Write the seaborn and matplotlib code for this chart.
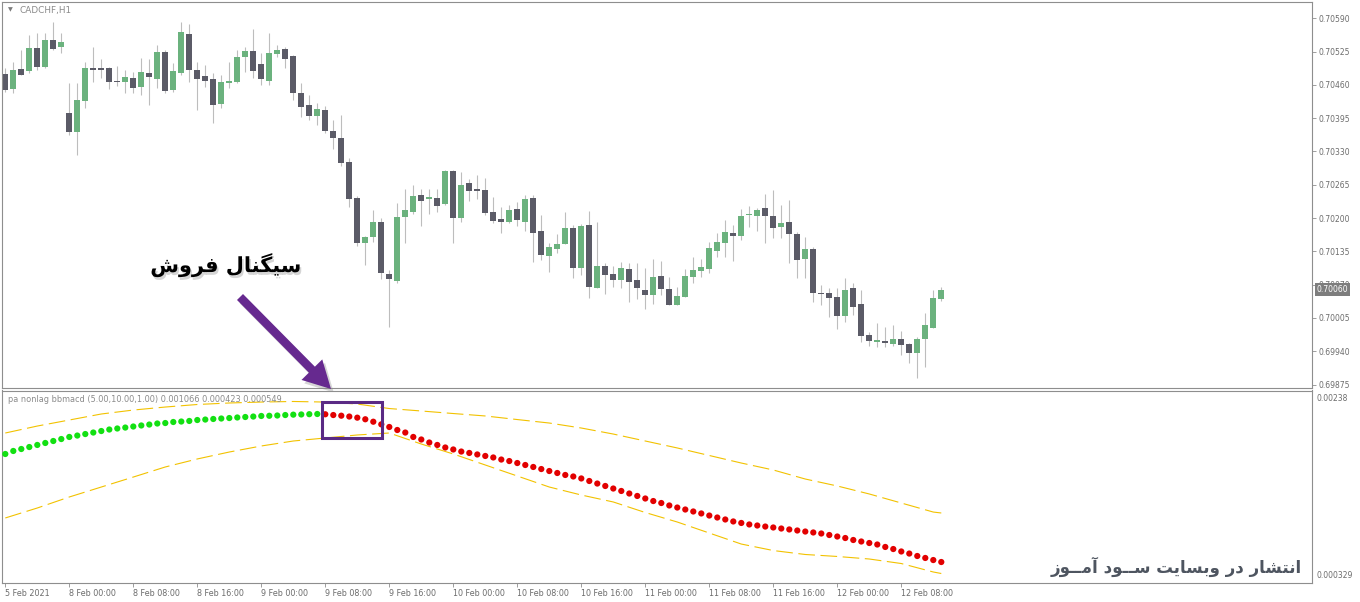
import numpy as np
import pandas as pd
import matplotlib
matplotlib.use("Agg")
import matplotlib.pyplot as plt
import matplotlib.patheffects as pe
from matplotlib.patches import Rectangle
import seaborn as sns

# ---------------- data ----------------
symbol = "CADCHF,H1"
indicator_title = "pa nonlag bbmacd (5.00,10.00,1.00) 0.001066 0.000423 0.000549"
signal_text = "سیگنال فروش"
credit_text = "انتشار در وبسایت ســود آمــوز"

opens = [0.70481,0.70452,0.70491,0.70487,0.70532,0.70495,0.70548,0.70534,0.70405,0.70368,
         0.70429,0.70493,0.70493,0.70493,0.70468,0.70466,0.70473,0.70456,0.70483,0.70471,
         0.70524,0.70450,0.70483,0.70559,0.70489,0.70477,0.70471,0.70423,0.70464,0.70466,
         0.70514,0.70526,0.70501,0.70468,0.70520,0.70530,0.70516,0.70444,0.70421,0.70399,
         0.70411,0.70370,0.70356,0.70310,0.70239,0.70151,0.70163,0.70192,0.70091,0.70077,
         0.70202,0.70212,0.70245,0.70237,0.70239,0.70227,0.70292,0.70200,0.70268,0.70257,
         0.70255,0.70212,0.70198,0.70192,0.70218,0.70192,0.70239,0.70175,0.70126,0.70140,
         0.70149,0.70181,0.70103,0.70187,0.70063,0.70107,0.70091,0.70079,0.70101,0.70079,
         0.70060,0.70050,0.70087,0.70062,0.70030,0.70046,0.70085,0.70097,0.70101,0.70136,
         0.70151,0.70171,0.70165,0.70206,0.70204,0.70220,0.70204,0.70183,0.70192,0.70169,
         0.70120,0.70140,0.70054,0.70054,0.70046,0.70009,0.70063,0.70032,0.69972,0.69958,
         0.69960,0.69954,0.69964,0.69954,0.69937,0.69964,0.69985,0.70042]
highs = [0.70493,0.70505,0.70528,0.70557,0.70561,0.70561,0.70583,0.70561,0.70464,0.70464,
         0.70505,0.70534,0.70510,0.70495,0.70497,0.70489,0.70485,0.70512,0.70510,0.70538,
         0.70528,0.70503,0.70583,0.70579,0.70505,0.70499,0.70483,0.70479,0.70505,0.70528,
         0.70534,0.70569,0.70522,0.70561,0.70538,0.70534,0.70518,0.70464,0.70440,0.70425,
         0.70419,0.70391,0.70401,0.70317,0.70243,0.70165,0.70216,0.70200,0.70099,0.70229,
         0.70257,0.70265,0.70257,0.70257,0.70257,0.70294,0.70294,0.70290,0.70276,0.70284,
         0.70278,0.70241,0.70222,0.70226,0.70231,0.70245,0.70245,0.70206,0.70151,0.70169,
         0.70212,0.70187,0.70188,0.70214,0.70192,0.70112,0.70107,0.70114,0.70112,0.70112,
         0.70103,0.70120,0.70116,0.70085,0.70065,0.70101,0.70124,0.70120,0.70153,0.70171,
         0.70196,0.70187,0.70218,0.70224,0.70220,0.70247,0.70255,0.70226,0.70235,0.70173,
         0.70163,0.70144,0.70069,0.70063,0.70063,0.70083,0.70073,0.70060,0.69978,0.69995,
         0.69987,0.69991,0.69980,0.69956,0.69968,0.70015,0.70060,0.70065]
lows = [0.70446,0.70444,0.70479,0.70483,0.70489,0.70493,0.70528,0.70522,0.70362,0.70323,
        0.70415,0.70466,0.70473,0.70452,0.70458,0.70444,0.70444,0.70440,0.70421,0.70454,
        0.70444,0.70446,0.70479,0.70466,0.70411,0.70456,0.70386,0.70415,0.70454,0.70464,
        0.70485,0.70473,0.70460,0.70460,0.70514,0.70493,0.70430,0.70397,0.70391,0.70382,
        0.70366,0.70335,0.70302,0.70222,0.70146,0.70108,0.70153,0.70081,0.69987,0.70073,
        0.70151,0.70208,0.70185,0.70208,0.70212,0.70226,0.70151,0.70192,0.70233,0.70237,
        0.70206,0.70190,0.70171,0.70190,0.70185,0.70175,0.70114,0.70118,0.70095,0.70132,
        0.70149,0.70083,0.70089,0.70044,0.70063,0.70052,0.70065,0.70063,0.70036,0.70042,
        0.70022,0.70032,0.70050,0.70030,0.70030,0.70046,0.70073,0.70085,0.70093,0.70124,
        0.70124,0.70116,0.70157,0.70183,0.70175,0.70151,0.70161,0.70161,0.70112,0.70083,
        0.70083,0.70036,0.70030,0.70007,0.69983,0.69997,0.70011,0.69958,0.69950,0.69948,
        0.69948,0.69950,0.69933,0.69917,0.69888,0.69909,0.69985,0.70038]
closes = [0.70450,0.70489,0.70479,0.70532,0.70495,0.70548,0.70530,0.70544,0.70368,0.70430,
          0.70493,0.70489,0.70489,0.70466,0.70466,0.70475,0.70454,0.70485,0.70475,0.70524,
          0.70448,0.70487,0.70563,0.70489,0.70471,0.70468,0.70421,0.70466,0.70468,0.70514,
          0.70526,0.70487,0.70471,0.70522,0.70528,0.70510,0.70444,0.70417,0.70399,0.70413,
          0.70370,0.70356,0.70308,0.70237,0.70151,0.70163,0.70192,0.70093,0.70081,0.70202,
          0.70216,0.70243,0.70233,0.70241,0.70224,0.70292,0.70200,0.70265,0.70253,0.70253,
          0.70210,0.70194,0.70192,0.70216,0.70196,0.70237,0.70171,0.70128,0.70144,0.70149,
          0.70181,0.70103,0.70185,0.70065,0.70107,0.70089,0.70079,0.70103,0.70075,0.70063,
          0.70050,0.70085,0.70062,0.70030,0.70048,0.70087,0.70099,0.70105,0.70142,0.70153,
          0.70173,0.70165,0.70204,0.70208,0.70216,0.70204,0.70181,0.70190,0.70169,0.70118,
          0.70140,0.70054,0.70052,0.70044,0.70009,0.70060,0.70026,0.69970,0.69960,0.69962,
          0.69956,0.69964,0.69952,0.69937,0.69964,0.69991,0.70044,0.70060]

macd = [0.001700,0.001732,0.001753,0.001774,0.001796,0.001817,0.001838,0.001859,0.001881,0.001896,
        0.001912,0.001928,0.001944,0.001960,0.001971,0.001981,0.001992,0.002003,0.002013,0.002024,
        0.002029,0.002040,0.002045,0.002051,0.002061,0.002066,0.002072,0.002077,0.002082,0.002088,
        0.002093,0.002098,0.002104,0.002106,0.002109,0.002114,0.002118,0.002120,0.002123,0.002125,
        0.002122,0.002114,0.002107,0.002098,0.002086,0.002069,0.002043,0.002015,0.001987,0.001955,
        0.001928,0.001881,0.001854,0.001822,0.001796,0.001769,0.001748,0.001726,0.001711,0.001695,
        0.001679,0.001663,0.001641,0.001625,0.001604,0.001583,0.001562,0.001540,0.001519,0.001498,
        0.001477,0.001461,0.001440,0.001413,0.001386,0.001360,0.001333,0.001307,0.001280,0.001254,
        0.001227,0.001200,0.001179,0.001153,0.001131,0.001110,0.001089,0.001068,0.001046,0.001025,
        0.001004,0.000983,0.000967,0.000951,0.000940,0.000929,0.000919,0.000908,0.000898,0.000887,
        0.000876,0.000866,0.000855,0.000839,0.000823,0.000807,0.000786,0.000770,0.000754,0.000738,
        0.000712,0.000690,0.000664,0.000642,0.000616,0.000595,0.000573,0.000552]

band_idx = [0,4,8,12,16,20,24,28,32,36,40,44,48,52,56,60,64,68,72,76,80,84,88,92,96,100,104,108,112,116,117]
band_upper = [0.001923,0.001997,0.002061,0.002125,0.002167,0.002199,0.002226,0.002242,0.002252,0.002258,
              0.002252,0.002231,0.002183,0.002157,0.002130,0.002104,0.002066,0.002029,0.001976,0.001912,
              0.001838,0.001764,0.001684,0.001604,0.001530,0.001434,0.001360,0.001275,0.001179,0.001083,0.001073]
band_lower = [0.001020,0.001126,0.001243,0.001349,0.001455,0.001562,0.001647,0.001721,0.001785,0.001838,
              0.001870,0.001902,0.001923,0.001806,0.001700,0.001583,0.001466,0.001349,0.001264,0.001190,
              0.001078,0.000977,0.000860,0.000743,0.000674,0.000632,0.000611,0.000584,0.000536,0.000446,0.000430]

price_ticks = [0.69875,0.69940,0.70005,0.70070,0.70135,0.70200,0.70265,0.70330,0.70395,0.70460,0.70525,0.70590]
last_price = 0.70060
ind_max_label = "0.00238"
ind_min_label = "0.000329"
ind_min, ind_max = 0.000329, 0.0023747

time_tick_pos = [0,8,16,24,32,40,48,56,64,72,80,88,96,104,112]
time_tick_labels = ["5 Feb 2021","8 Feb 00:00","8 Feb 08:00","8 Feb 16:00","9 Feb 00:00",
                    "9 Feb 08:00","9 Feb 16:00","10 Feb 00:00","10 Feb 08:00","10 Feb 16:00",
                    "11 Feb 00:00","11 Feb 08:00","11 Feb 16:00","12 Feb 00:00","12 Feb 08:00"]

# ---------------- simple Persian shaping ----------------
FORMS = {
    'ا': ('\uFE8D', '\uFE8E', None, None),
    'آ': ('\uFE81', '\uFE82', None, None),
    'ب': ('\uFE8F', '\uFE90', '\uFE91', '\uFE92'),
    'ت': ('\uFE95', '\uFE96', '\uFE97', '\uFE98'),
    'د': ('\uFEA9', '\uFEAA', None, None),
    'ر': ('\uFEAD', '\uFEAE', None, None),
    'ز': ('\uFEAF', '\uFEB0', None, None),
    'س': ('\uFEB1', '\uFEB2', '\uFEB3', '\uFEB4'),
    'ش': ('\uFEB5', '\uFEB6', '\uFEB7', '\uFEB8'),
    'ف': ('\uFED1', '\uFED2', '\uFED3', '\uFED4'),
    'ل': ('\uFEDD', '\uFEDE', '\uFEDF', '\uFEE0'),
    'م': ('\uFEE1', '\uFEE2', '\uFEE3', '\uFEE4'),
    'ن': ('\uFEE5', '\uFEE6', '\uFEE7', '\uFEE8'),
    'و': ('\uFEED', '\uFEEE', None, None),
    'ی': ('\uFBFC', '\uFBFD', '\uFBFE', '\uFBFF'),
    'گ': ('\uFB92', '\uFB93', '\uFB94', '\uFB95'),
    'ـ': ('\u0640', '\u0640', '\u0640', '\u0640'),
}


def shape_rtl(text):
    out = []
    n = len(text)
    for i, ch in enumerate(text):
        if ch not in FORMS:
            out.append(ch)
            continue
        prev = text[i - 1] if i > 0 else None
        nxt = text[i + 1] if i + 1 < n else None
        jp = prev in FORMS and FORMS[prev][2] is not None
        jn = FORMS[ch][2] is not None and nxt in FORMS
        iso, fin, ini, med = FORMS[ch]
        if jp and jn:
            g = med
        elif jp:
            g = fin
        elif jn:
            g = ini
        else:
            g = iso
        out.append(g)
    return ''.join(reversed(out))


# ---------------- style ----------------
sns.set_theme(style="white")
plt.rcParams['font.family'] = ['DejaVu Sans']

GREEN_BODY = "#6BB27E"
DARK_BODY = "#5B5B67"
WICK = "#BDBDBD"
FRAME = "#8E8E8E"
LABEL = "#6C6C6C"
DOT_UP = "#12E012"
DOT_DN = "#E20000"
BAND = "#F2C200"
PURPLE = "#66298F"
BOX = "#5A2A84"

W, H = 1360, 602
fig = plt.figure(figsize=(W / 100, H / 100), dpi=100, facecolor="white")


def rect(l, t, r, b):
    return [l / W, 1 - b / H, (r - l) / W, (b - t) / H]


ax1 = fig.add_axes(rect(2, 2, 1312, 387.5))
ax2 = fig.add_axes(rect(2, 390.5, 1312, 583))

xlim = (-0.4125, 163.34)

# ---------------- candles ----------------
o = np.array(opens); h = np.array(highs); l = np.array(lows); c = np.array(closes)
idx = np.arange(len(o))
up = c >= o
ax1.vlines(idx, l, h, color=WICK, lw=0.8, zorder=1)
bottom = np.minimum(o, c)
height = np.maximum(np.abs(c - o), 0.000016)
ax1.bar(idx[up], height[up], bottom=bottom[up], width=0.75, color=GREEN_BODY, lw=0, zorder=2)
ax1.bar(idx[~up], height[~up], bottom=bottom[~up], width=0.75, color=DARK_BODY, lw=0, zorder=2)

ax1.set_xlim(*xlim)
ax1.set_ylim(0.698693, 0.706218)
ax1.yaxis.tick_right()
ax1.set_yticks(price_ticks)
ax1.set_yticklabels([f"{v:.5f}" for v in price_ticks])
ax1.tick_params(axis='y', right=True, left=False, length=3, width=0.6, color=FRAME,
                labelsize=5.5, labelcolor=LABEL, pad=1.5)
ax1.tick_params(axis='x', bottom=False, labelbottom=False)
for s in ax1.spines.values():
    s.set_color(FRAME); s.set_linewidth(0.8)

ax1.text((8 - 2) / 1310, 1 - (10 - 2) / 385.5, "▼", transform=ax1.transAxes, fontsize=4.5,
         color="#7a7a7a", va='center', ha='left')
ax1.text((20 - 2) / 1310, 1 - (10 - 2) / 385.5, symbol, transform=ax1.transAxes, fontsize=6.4,
         color="#8a8a8a", va='center', ha='left')

ax1.annotate(f"{last_price:.5f}", xy=(1, last_price), xycoords=('axes fraction', 'data'),
             xytext=(3.2, 0), textcoords='offset points', va='center', ha='left',
             fontsize=5.5, color='white', zorder=10, annotation_clip=False,
             bbox=dict(boxstyle='square,pad=0.25', fc='#7d7d7d', ec='none'))

# ---------------- indicator ----------------
df = pd.DataFrame({"bar": idx, "value": macd})
slope = np.diff(np.array(macd), prepend=macd[0] - 1e-9)
df["trend"] = np.where(slope >= 0, "up", "down")
sns.scatterplot(data=df, x="bar", y="value", hue="trend", palette={"up": DOT_UP, "down": DOT_DN},
                s=20, linewidth=0, legend=False, ax=ax2, zorder=4)
sns.lineplot(x=band_idx, y=band_upper, color=BAND, lw=0.8, ax=ax2, zorder=3,
             linestyle=(0, (15, 5)))
sns.lineplot(x=band_idx, y=band_lower, color=BAND, lw=0.8, ax=ax2, zorder=3,
             linestyle=(0, (15, 5)))

ax2.set_xlim(*xlim)
ax2.set_ylim(ind_min, ind_max)
ax2.set_yticks([])
ax2.set_ylabel("")
ax2.set_xlabel("")
ax2.set_xticks(time_tick_pos)
ax2.set_xticklabels(time_tick_labels)
plt.setp(ax2.get_xticklabels(), ha='left')
ax2.tick_params(axis='x', bottom=True, length=3, width=0.6, color=FRAME,
                labelsize=5.8, labelcolor=LABEL, pad=1.5)
for s in ax2.spines.values():
    s.set_color(FRAME); s.set_linewidth(0.8)

ax2.text((8 - 2) / 1310, 1 - (399 - 390.5) / 192.5, indicator_title, transform=ax2.transAxes,
         fontsize=5.9, color="#8a8a8a", va='center', ha='left', zorder=6)
ax2.annotate(ind_max_label, xy=(1, 1), xycoords='axes fraction', xytext=(3, -2.2),
             textcoords='offset points', va='top', ha='left', fontsize=5.5, color=LABEL,
             annotation_clip=False)
ax2.annotate(ind_min_label, xy=(1, 0), xycoords='axes fraction', xytext=(3, 1.8),
             textcoords='offset points', va='bottom', ha='left', fontsize=5.5, color=LABEL,
             annotation_clip=False)

# signal box
box = Rectangle((39.55, 0.001873), 7.55, 0.000383, fill=False, lw=2.2, ec=BOX, zorder=7,
                clip_on=False)
ax2.add_patch(box)

# ---------------- annotations ----------------
arr = ax1.annotate("", xy=(331, H - 389), xycoords='figure pixels',
                   xytext=(240, H - 297), textcoords='figure pixels',
                   annotation_clip=False,
                   arrowprops=dict(arrowstyle="simple,head_length=1.35,head_width=1.45,tail_width=0.42",
                                   mutation_scale=14.5, fc=PURPLE, ec='none', lw=0,
                                   shrinkA=0, shrinkB=0))
arr.arrow_patch.set_path_effects([pe.withSimplePatchShadow(offset=(2, -2.5), shadow_rgbFace='#888888', alpha=0.35)])
arr.arrow_patch.set_zorder(20)

fig.text(226 / W, 1 - 265 / H, shape_rtl(signal_text), fontsize=15, fontweight='bold',
         color='black', ha='center', va='center', family=['DejaVu Sans'],
         path_effects=[pe.withSimplePatchShadow(offset=(1.2, -2), shadow_rgbFace='#777777', alpha=0.3)])
fig.text(1302 / W, 1 - 567 / H, shape_rtl(credit_text), fontsize=12, fontweight='bold',
         color='#4E5560', ha='right', va='center', family=['DejaVu Sans'], zorder=10)

fig.savefig("out.png", dpi=100, facecolor="white")
